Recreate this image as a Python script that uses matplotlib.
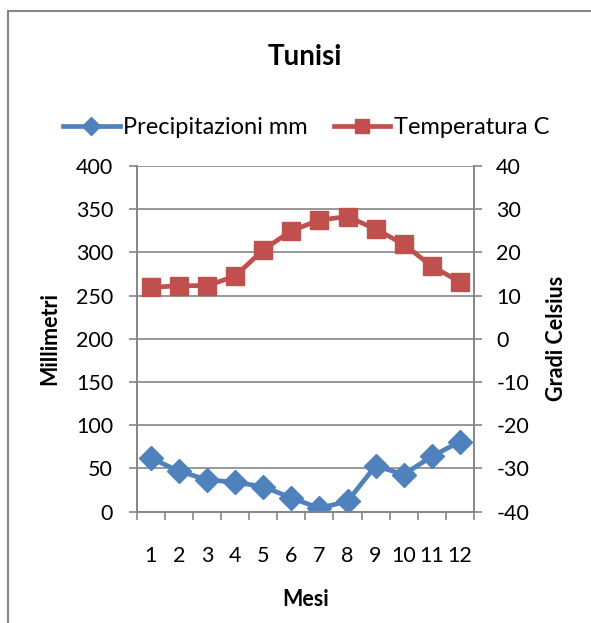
import matplotlib
matplotlib.use("Agg")
import matplotlib.pyplot as plt
from matplotlib.patches import Rectangle

plt.rcParams['font.family'] = ['Lato', 'DejaVu Sans']
plt.rcParams['axes.unicode_minus'] = False

# dati
mesi = [1, 2, 3, 4, 5, 6, 7, 8, 9, 10, 11, 12]
mesi_labels = ['1', '2', '3', '4', '5', '6', '7', '8', '9', '10', '11', '12']
precipitazioni = [62, 47, 37, 34, 29, 16, 4, 12, 53, 43, 64, 81]
temperatura = [11.9, 12.3, 12.3, 14.5, 20.6, 25.0, 27.5, 28.3, 25.4, 21.9, 16.8, 13.2]

blu = '#4F81BD'
rosso = '#C0504D'
grigio = '#868686'

fig = plt.figure(figsize=(5.91, 6.23), dpi=100)
ax = fig.add_axes([0.2313, 0.1787, 0.5707, 0.5548])
ax2 = ax.twinx()

l1, = ax.plot(mesi, precipitazioni, color=blu, lw=3.4, marker='D', ms=12,
              label='Precipitazioni mm', zorder=3)
l2, = ax2.plot(mesi, temperatura, color=rosso, lw=3.4, marker='s', ms=13,
               label='Temperatura C', zorder=3)

ax.set_xlim(0.5, 12.5)
ax.set_ylim(0, 400)
ax2.set_ylim(-40, 40)
ax.set_yticks(range(0, 401, 50))
ax2.set_yticks(range(-40, 41, 10))
ax.set_xticks(mesi)
ax.set_xticklabels(mesi_labels, fontsize=15.5)
ax.set_xticks([m + 0.5 for m in range(0, 13)], minor=True)
ax.tick_params(axis='x', which='major', length=0, pad=25)
ax.tick_params(axis='x', which='minor', length=6, width=1.2, color=grigio)
ax.tick_params(axis='y', length=6, width=1.2, color=grigio, pad=11, labelsize=15.5)
ax2.tick_params(axis='y', length=6, width=1.2, color=grigio, pad=10, labelsize=15.5)

ax.grid(axis='y', color=grigio, lw=1.2)
for a in (ax, ax2):
    a.spines['top'].set_visible(False)
    for s in ['left', 'right', 'bottom']:
        a.spines[s].set_color(grigio)
        a.spines[s].set_linewidth(1.2)

ax.set_ylabel('Millimetri', fontsize=15.5, fontweight='bold', labelpad=11)
ax2.set_ylabel('Gradi Celsius', fontsize=15.5, fontweight='bold', labelpad=12)
ax.set_xlabel('Mesi', fontsize=15.5, fontweight='bold', labelpad=16)

fig.text(0.515, 0.908, 'Tunisi', fontsize=20, fontweight='bold', ha='center', va='center')
fig.legend(handles=[l1, l2], loc='center', bbox_to_anchor=(0.518, 0.795), ncol=2,
           frameon=False, fontsize=17, handlelength=2.4, handletextpad=0.15,
           columnspacing=1.1, markerscale=0.75)

fig.patches.append(Rectangle((7.5 / 591, -0.1), 1.2, 1 - 11 / 623 + 0.1,
                             transform=fig.transFigure, fill=False,
                             edgecolor=grigio, lw=1.5))

fig.savefig('out.png', dpi=100, facecolor='white')
